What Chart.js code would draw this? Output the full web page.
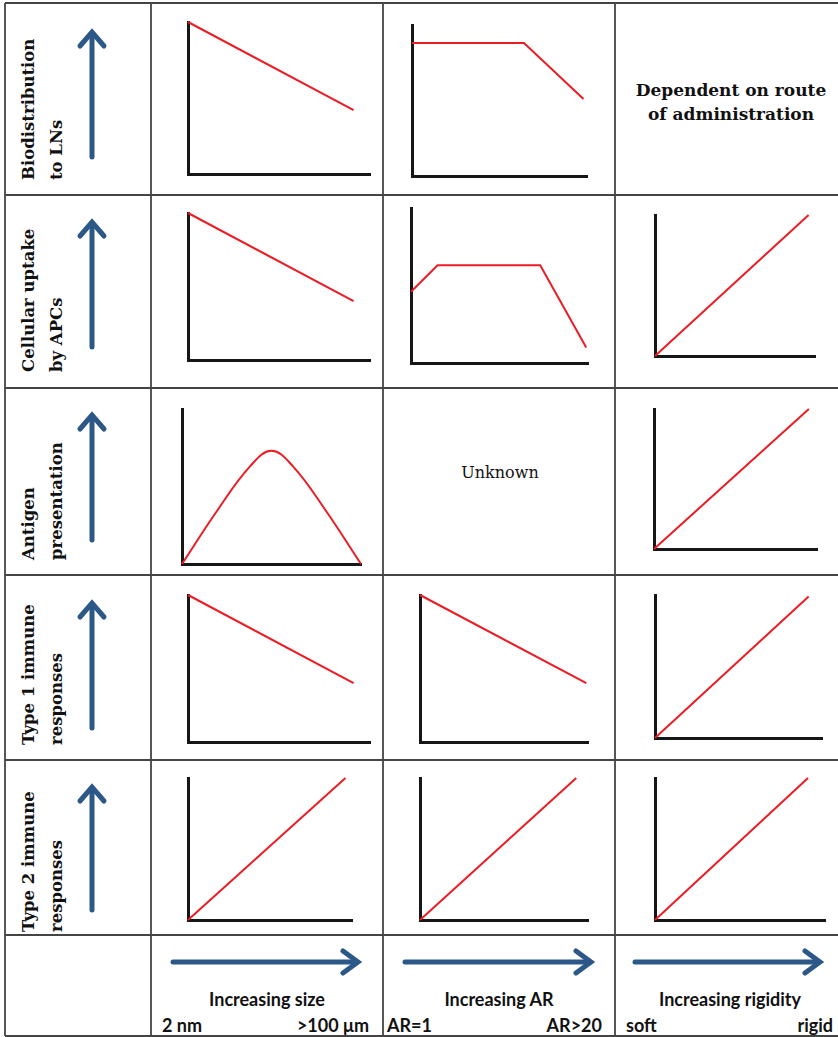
<!DOCTYPE html>
<html lang="en">
<head>
<meta charset="UTF-8">
<title>Nanoparticle properties vs immune outcomes</title>
<script src="https://cdn.jsdelivr.net/npm/chart.js"></script>
<style>
  body { margin: 0; background: #fff; }
  #sheet { position: relative; width: 838px; height: 1037px; overflow: hidden; }
  #sheet svg { position: absolute; left: 0; top: 0; }
  #sheet canvas { position: absolute; }
  .rowLabel {
    position: absolute; transform-origin: 0 0; transform: rotate(-90deg);
    font: bold 16.5px "DejaVu Serif", serif; line-height: 28px; white-space: nowrap; color: #111;
  }
  .note { position: absolute; text-align: center; white-space: nowrap; color: #111; transform: translate(-50%, -50%); }
  .axisText { position: absolute; font: bold 18px Lato, sans-serif; white-space: nowrap; color: #111; transform: translateY(-50%); }
</style>
</head>
<body>
<div id="sheet"></div>

<script>
// --- categories / labels ---
const rowLabels = [
  ['Biodistribution', 'to LNs'],
  ['Cellular uptake', 'by APCs'],
  ['Antigen', 'presentation'],
  ['Type 1 immune', 'responses'],
  ['Type 2 immune', 'responses']
];
const propertyLabels = ['Increasing size', 'Increasing AR', 'Increasing rigidity'];
const rangeLow = ['2 nm', 'AR=1', 'soft'];
const rangeHigh = ['>100 μm', 'AR>20', 'rigid'];
const rigidityBiodistNote = ['Dependent on route', 'of administration'];
const arAntigenNote = 'Unknown';

// --- trends (x and y on a 0..100 scale) ---
// size column
const sizeBiodistX = [0, 91];
const sizeBiodistY = [100, 42];
const sizeUptakeX = [0, 91];
const sizeUptakeY = [100, 40];
const sizeAntigenX = [0, 20, 38, 50, 62, 80, 100];
const sizeAntigenY = [0, 35, 63, 73, 63, 35, 0];
const sizeType1X = [0, 91];
const sizeType1Y = [100, 40];
const sizeType2X = [0, 96];
const sizeType2Y = [0, 100];
// aspect ratio column
const arBiodistX = [0, 64, 98];
const arBiodistY = [88, 88, 51];
const arUptakeX = [0, 15, 73, 99];
const arUptakeY = [46, 63, 63, 10];
const arType1X = [0, 99];
const arType1Y = [100, 40];
const arType2X = [0, 93];
const arType2Y = [0, 100];
// rigidity column
const rigUptakeX = [0, 96];
const rigUptakeY = [0, 100];
const rigAntigenX = [0, 95];
const rigAntigenY = [0, 100];
const rigType1X = [0, 92];
const rigType1Y = [0, 99];
const rigType2X = [0, 90];
const rigType2Y = [0, 100];

// --- page layout (pixel boxes: left, top, right, bottom of each mini axis) ---
const colLines = [5, 151, 383, 615];
const rowLines = [3, 195, 388, 575, 760, 935, 1036];
const panels = [
  { box: [188, 22, 370, 174], x: sizeBiodistX, y: sizeBiodistY },
  { box: [412, 25, 587, 176], x: arBiodistX, y: arBiodistY },
  { box: [188, 213, 370, 360], x: sizeUptakeX, y: sizeUptakeY },
  { box: [411, 208, 588, 363], x: arUptakeX, y: arUptakeY },
  { box: [655, 215, 815, 356], x: rigUptakeX, y: rigUptakeY },
  { box: [182, 409, 361, 564], x: sizeAntigenX, y: sizeAntigenY, curve: true },
  { box: [654, 409, 817, 549], x: rigAntigenX, y: rigAntigenY },
  { box: [188, 595, 370, 742], x: sizeType1X, y: sizeType1Y },
  { box: [420, 595, 588, 742], x: arType1X, y: arType1Y },
  { box: [655, 595, 822, 738], x: rigType1X, y: rigType1Y },
  { box: [188, 778, 352, 920], x: sizeType2X, y: sizeType2Y },
  { box: [420, 778, 588, 920], x: arType2X, y: arType2Y },
  { box: [655, 778, 825, 920], x: rigType2X, y: rigType2Y }
];
const labelStartY = [180, 372, 560, 745, 932];
const upArrows = [[157, 32], [347, 222], [540, 415], [728, 603], [910, 787]];
const rightArrows = [[173, 358], [405, 591], [635, 820]];
const propCenters = [267, 499, 730];
const lowLeft = [162, 387, 626];
const highRight = [369, 602, 833];

const RED = '#ec1c24';
const BLUE = '#2b5887';
const PAD = 6;

const sheet = document.getElementById('sheet');

// grid and arrows
const NS = 'http://www.w3.org/2000/svg';
const svg = document.createElementNS(NS, 'svg');
svg.setAttribute('width', 838);
svg.setAttribute('height', 1037);
function el(name, attrs) {
  const e = document.createElementNS(NS, name);
  for (const k in attrs) e.setAttribute(k, attrs[k]);
  svg.appendChild(e);
  return e;
}
colLines.forEach(x => el('line', { x1: x, y1: rowLines[0], x2: x, y2: rowLines[rowLines.length - 1], stroke: '#444', 'stroke-width': 1.8 }));
rowLines.forEach(y => el('line', { x1: colLines[0], y1: y, x2: 838, y2: y, stroke: '#444', 'stroke-width': 1.8 }));

upArrows.forEach(([tail, tip]) => {
  el('line', { x1: 92, y1: tail, x2: 92, y2: tip + 2, stroke: BLUE, 'stroke-width': 5, 'stroke-linecap': 'round' });
  el('polyline', { points: `${92 - 12},${tip + 14} 92,${tip} ${92 + 12},${tip + 14}`, fill: 'none', stroke: BLUE, 'stroke-width': 5, 'stroke-linecap': 'round' });
});
rightArrows.forEach(([x1, x2]) => {
  el('line', { x1: x1, y1: 962, x2: x2 - 2, y2: 962, stroke: BLUE, 'stroke-width': 5, 'stroke-linecap': 'round' });
  el('polyline', { points: `${x2 - 15},${962 - 11} ${x2},962 ${x2 - 15},${962 + 11}`, fill: 'none', stroke: BLUE, 'stroke-width': 5, 'stroke-linecap': 'round' });
});
sheet.appendChild(svg);

// row labels (rotated)
rowLabels.forEach((lines, i) => {
  const d = document.createElement('div');
  d.className = 'rowLabel';
  d.style.left = '15px';
  d.style.top = labelStartY[i] + 'px';
  d.innerHTML = lines.join('<br>');
  sheet.appendChild(d);
});

// notes
function note(html, cx, cy, font) {
  const d = document.createElement('div');
  d.className = 'note';
  d.style.left = cx + 'px';
  d.style.top = cy + 'px';
  d.style.font = font;
  d.innerHTML = html;
  sheet.appendChild(d);
}
note(rigidityBiodistNote.join('<br>'), 731, 102, 'bold 17px/24px "DejaVu Serif", serif');
note(arAntigenNote, 500, 472, '16px "DejaVu Serif", serif');

// bottom axis texts
function axisText(txt, x, y, align) {
  const d = document.createElement('div');
  d.className = 'axisText';
  d.textContent = txt;
  d.style.top = y + 'px';
  if (align === 'left') d.style.left = x + 'px';
  else if (align === 'right') d.style.right = (838 - x) + 'px';
  else { d.style.left = x + 'px'; d.style.transform = 'translate(-50%, -50%)'; }
  sheet.appendChild(d);
}
propertyLabels.forEach((t, i) => axisText(t, propCenters[i], 999, 'center'));
rangeLow.forEach((t, i) => axisText(t, lowLeft[i], 1025, 'left'));
rangeHigh.forEach((t, i) => axisText(t, highRight[i], 1025, 'right'));

// mini charts
const axisOpts = {
  type: 'linear', min: 0, max: 100,
  grid: { display: false, drawTicks: false },
  ticks: { display: false },
  border: { display: true, color: '#161616', width: 3 }
};
panels.forEach(p => {
  const [l, t, r, b] = p.box;
  const c = document.createElement('canvas');
  c.width = r - l + 2 * PAD;
  c.height = b - t + 2 * PAD;
  c.style.left = (l - PAD) + 'px';
  c.style.top = (t - PAD) + 'px';
  sheet.appendChild(c);
  new Chart(c.getContext('2d'), {
    type: 'line',
    data: {
      datasets: [{
        data: p.x.map((x, i) => ({ x: x, y: p.y[i] })),
        borderColor: RED,
        borderWidth: 2,
        pointRadius: 0,
        tension: p.curve ? 0.4 : 0,
        clip: false
      }]
    },
    options: {
      responsive: false,
      animation: false,
      layout: { padding: PAD },
      plugins: { legend: { display: false }, tooltip: { enabled: false } },
      scales: { x: axisOpts, y: axisOpts }
    }
  });
});
</script>
</body>
</html>
